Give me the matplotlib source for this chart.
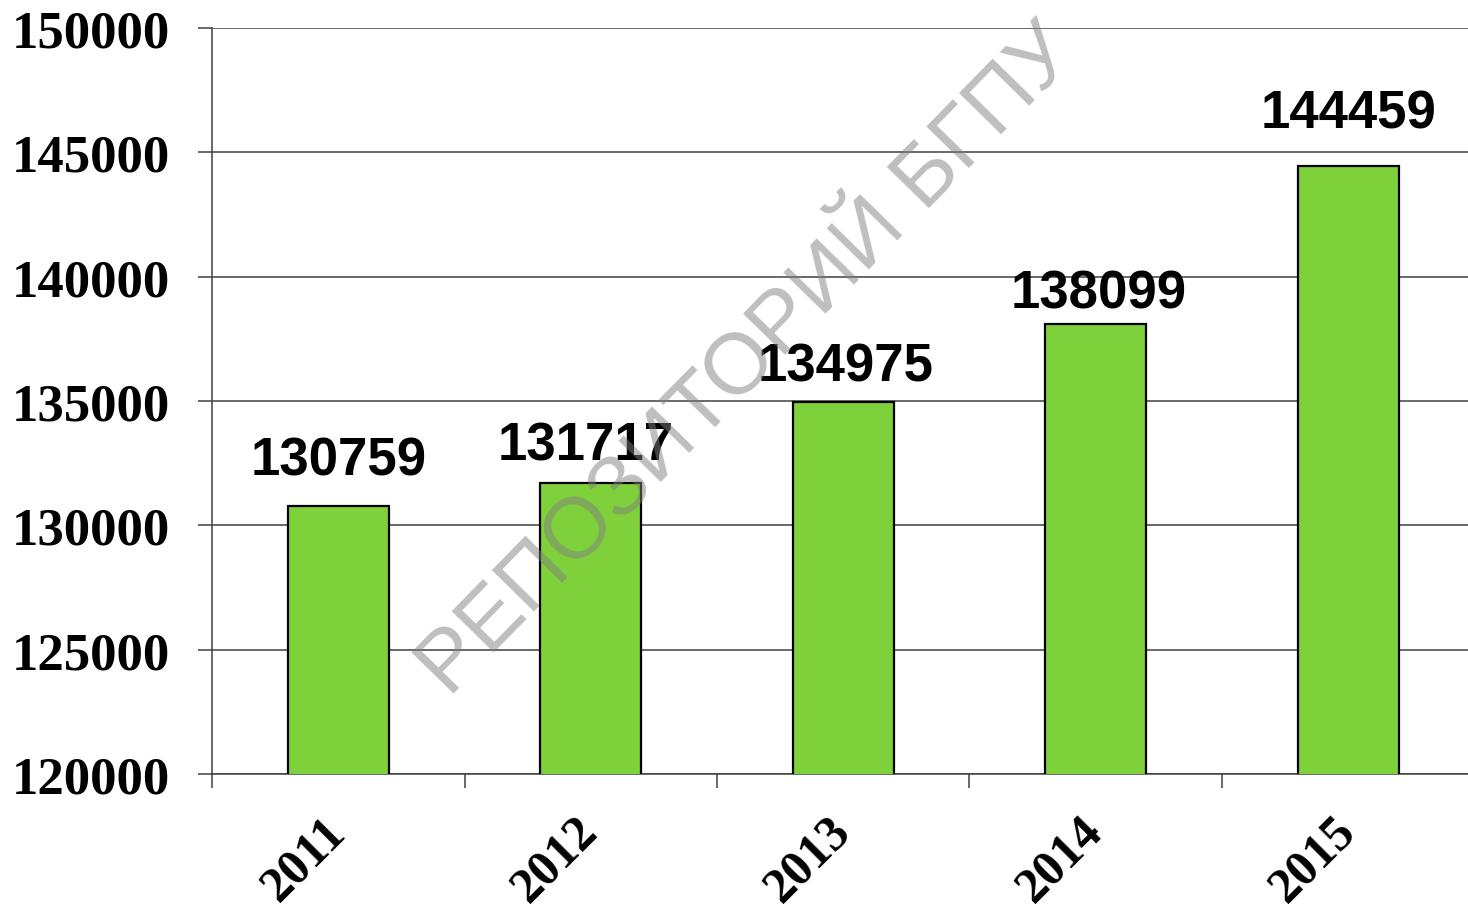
import matplotlib.pyplot as plt
import matplotlib.ticker as mticker

years = ["2011", "2012", "2013", "2014", "2015"]
values = [130759, 131717, 134975, 138099, 144459]
# label offsets in points (dx, dy) above each bar
label_dx = [0, -4, 2, 2, 0]
label_dy = [15, 9, 7, 4, 20]

fig = plt.figure(figsize=(14.68, 9.12), dpi=100)
ax = fig.add_axes([212 / 1468, 1 - 775 / 912, 1262.5 / 1468, 746 / 912])

x = list(range(len(years)))
ax.bar(x, values, width=0.4, color="#7FD13B", edgecolor="black", linewidth=1.6, zorder=3)

ax.set_ylim(120000, 150000)
ax.set_xlim(-0.5, 4.5)
ax.yaxis.set_major_locator(mticker.MultipleLocator(5000))
ax.grid(axis="y", color="#404040", linewidth=1.1, zorder=0)
ax.set_axisbelow(True)

for s in ["top", "right"]:
    ax.spines[s].set_visible(False)
for s in ["left", "bottom"]:
    ax.spines[s].set_color("#404040")
    ax.spines[s].set_linewidth(1.1)

ax.tick_params(axis="y", length=10, width=1.1, color="#404040", pad=20)
ax.set_xticks(x)
ax.set_xticks([i - 0.5 for i in range(len(years) + 1)], minor=True)
ax.tick_params(axis="x", which="major", length=0, pad=36)
ax.tick_params(axis="x", which="minor", length=10, width=1.1, color="#404040")

for lbl in ax.get_yticklabels():
    lbl.set_fontfamily("Liberation Serif")
    lbl.set_fontweight("bold")
    lbl.set_fontsize(38)

ax.set_xticklabels(years, rotation=45, ha="right", va="center",
                   rotation_mode="anchor", fontfamily="Liberation Serif",
                   fontweight="bold", fontsize=36)

for i, v in enumerate(values):
    ax.annotate(str(v), (i, v), xytext=(label_dx[i], label_dy[i]),
                textcoords="offset points", ha="center", va="bottom",
                fontfamily="Liberation Sans", fontweight="bold", fontsize=38,
                zorder=4)

fig.text(0.5095, 0.603, "РЕПОЗИТОРИЙ БГПУ", rotation=45.6, ha="center", va="center",
         fontfamily="Liberation Sans", fontsize=62, color="#808080", alpha=0.5,
         rotation_mode="anchor", zorder=10)

fig.savefig("out.png", dpi=100)
